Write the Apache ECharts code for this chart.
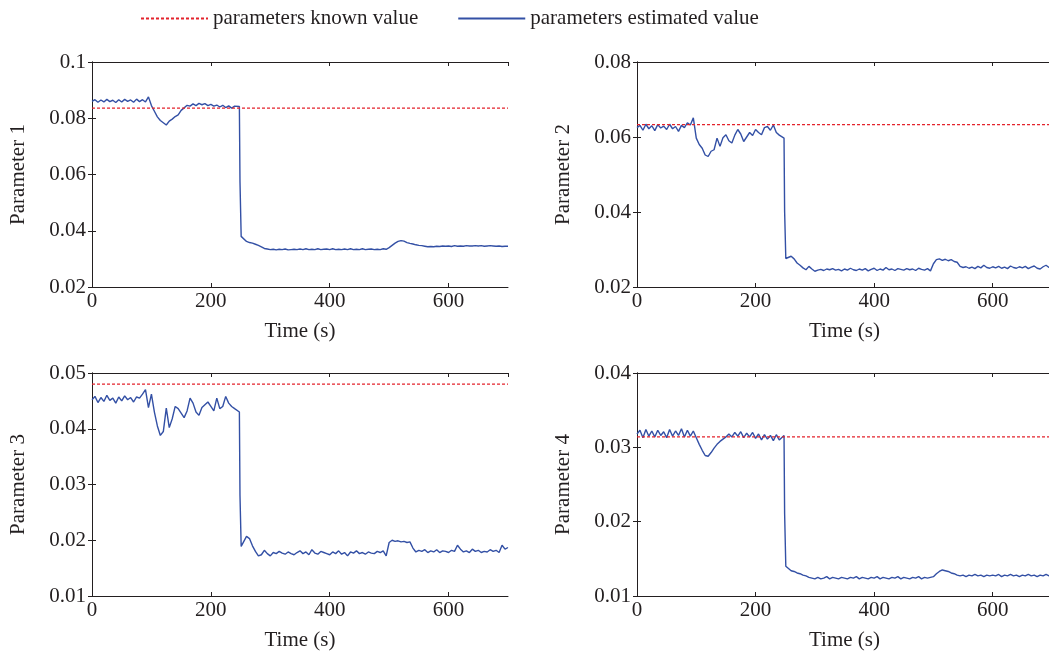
<!DOCTYPE html>
<html>
<head>
<meta charset="utf-8">
<script src="https://cdn.jsdelivr.net/npm/echarts@6/dist/echarts.min.js"></script>
<style>
  html, body { margin: 0; padding: 0; overflow: hidden; background: #fff; }
  #chart { width: 1053px; height: 652px; }
</style>
</head>
<body>
<div id="chart"></div>
<script>
// sample times: every 5 s, except the sharp drop around 248-251 s
const times = [];
for (let t = 0; t <= 700; t += 5) times.push(t);
times[49] = 248; times[50] = 249; times[51] = 251;

const seriesNames = ['parameters known value', 'parameters estimated value'];
const panelNames = ['Parameter 1', 'Parameter 2', 'Parameter 3', 'Parameter 4'];
const knownValues = [0.0836, 0.0633, 0.0480, 0.0314];

// estimated values, one per sample time
const param1 = [
  0.0860, 0.0866, 0.0857, 0.0865, 0.0858, 0.0867, 0.0859, 0.0864, 0.0856, 0.0866,
  0.0858, 0.0867, 0.0860, 0.0865, 0.0857, 0.0868, 0.0859, 0.0866, 0.0858, 0.0876,
  0.0845, 0.0825, 0.0805, 0.0792, 0.0784, 0.0776, 0.0790, 0.0797, 0.0806, 0.0812,
  0.0828, 0.0837, 0.0846, 0.0843, 0.0851, 0.0845, 0.0853, 0.0848, 0.0852, 0.0845,
  0.0849, 0.0843, 0.0847, 0.0840, 0.0846, 0.0838, 0.0844, 0.0836, 0.0843, 0.0842,
  0.0576, 0.0380, 0.0362, 0.0358, 0.0356, 0.0352, 0.0348, 0.0343, 0.0337, 0.0335,
  0.0333, 0.0334, 0.0332, 0.0334, 0.0333, 0.0335, 0.0332, 0.0333, 0.0334, 0.0333,
  0.0335, 0.0333, 0.0336, 0.0333, 0.0334, 0.0333, 0.0336, 0.0333, 0.0334, 0.0335,
  0.0333, 0.0336, 0.0333, 0.0334, 0.0333, 0.0335, 0.0333, 0.0336, 0.0333, 0.0334,
  0.0333, 0.0336, 0.0333, 0.0334, 0.0335, 0.0333, 0.0334, 0.0333, 0.0336, 0.0334,
  0.0340, 0.0348, 0.0356, 0.0362, 0.0365, 0.0363, 0.0358, 0.0355, 0.0353, 0.0350,
  0.0348, 0.0347, 0.0345, 0.0343, 0.0344, 0.0343, 0.0345, 0.0344, 0.0346, 0.0345,
  0.0346, 0.0344, 0.0347, 0.0345, 0.0346, 0.0345, 0.0347, 0.0346, 0.0346, 0.0347,
  0.0346, 0.0347, 0.0345, 0.0346, 0.0347, 0.0346, 0.0345, 0.0346, 0.0344, 0.0345,
  0.0345
];
const param2 = [
  0.0625, 0.0631, 0.0618, 0.0634, 0.0622, 0.0630, 0.0617, 0.0633, 0.0624, 0.0629,
  0.0620, 0.0634, 0.0622, 0.0628, 0.0615, 0.0631, 0.0625, 0.0638, 0.0632, 0.0651,
  0.0597, 0.0580, 0.0570, 0.0552, 0.0548, 0.0562, 0.0566, 0.0597, 0.0575, 0.0598,
  0.0606, 0.0590, 0.0584, 0.0605, 0.0620, 0.0608, 0.0588, 0.0600, 0.0612, 0.0604,
  0.0620, 0.0612, 0.0606, 0.0625, 0.0628, 0.0618, 0.0632, 0.0612, 0.0605, 0.0597,
  0.0402, 0.0276, 0.0282, 0.0275, 0.0264, 0.0258, 0.0251, 0.0246, 0.0255, 0.0248,
  0.0242, 0.0245, 0.0247, 0.0244, 0.0248, 0.0246, 0.0249, 0.0245, 0.0247, 0.0243,
  0.0248, 0.0245, 0.0250, 0.0246, 0.0244, 0.0248, 0.0245, 0.0249, 0.0243, 0.0247,
  0.0250, 0.0244, 0.0248, 0.0245, 0.0252, 0.0246, 0.0248, 0.0244, 0.0249, 0.0247,
  0.0245, 0.0249, 0.0246, 0.0248, 0.0244, 0.0250, 0.0247, 0.0245, 0.0249, 0.0243,
  0.0262, 0.0273, 0.0275, 0.0271, 0.0274, 0.0270, 0.0273, 0.0268, 0.0266, 0.0255,
  0.0252, 0.0254, 0.0250, 0.0253, 0.0249, 0.0255, 0.0251, 0.0258, 0.0252, 0.0250,
  0.0254, 0.0251, 0.0255, 0.0250, 0.0253, 0.0249, 0.0256, 0.0252, 0.0250, 0.0254,
  0.0251, 0.0255, 0.0249, 0.0253, 0.0256, 0.0250, 0.0248, 0.0254, 0.0258, 0.0252,
  0.0255
];
const param3 = [
  0.0452, 0.0458, 0.0447, 0.0456, 0.0449, 0.0460, 0.0451, 0.0455, 0.0446, 0.0457,
  0.0450, 0.0459, 0.0452, 0.0456, 0.0448, 0.0457, 0.0455, 0.0462, 0.0470, 0.0438,
  0.0462, 0.0430, 0.0405, 0.0388, 0.0395, 0.0437, 0.0402, 0.0418, 0.0440, 0.0436,
  0.0428, 0.0420, 0.0432, 0.0455, 0.0446, 0.0430, 0.0424, 0.0438, 0.0443, 0.0448,
  0.0440, 0.0432, 0.0455, 0.0436, 0.0440, 0.0458, 0.0446, 0.0440, 0.0436, 0.0430,
  0.0281, 0.0189, 0.0207, 0.0203, 0.0190, 0.0180, 0.0172, 0.0174, 0.0182, 0.0176,
  0.0172, 0.0178, 0.0176, 0.0180, 0.0177, 0.0175, 0.0179, 0.0176, 0.0174, 0.0178,
  0.0181, 0.0176, 0.0179, 0.0174, 0.0183, 0.0177, 0.0175, 0.0180, 0.0178, 0.0176,
  0.0174, 0.0179, 0.0176, 0.0181, 0.0175, 0.0178, 0.0172, 0.0179, 0.0177, 0.0181,
  0.0176, 0.0178, 0.0175, 0.0179, 0.0177, 0.0176, 0.0180, 0.0178, 0.0181, 0.0172,
  0.0196, 0.0200, 0.0198, 0.0199, 0.0197, 0.0198, 0.0196, 0.0197, 0.0186, 0.0179,
  0.0182, 0.0180, 0.0183, 0.0178, 0.0181, 0.0179, 0.0183, 0.0178, 0.0181, 0.0180,
  0.0178, 0.0182, 0.0180, 0.0191, 0.0184, 0.0179, 0.0181, 0.0178, 0.0184, 0.0180,
  0.0182, 0.0178, 0.0180, 0.0179, 0.0183, 0.0180, 0.0182, 0.0178, 0.0191, 0.0184,
  0.0187
];
const param4 = [
  0.0318, 0.0323, 0.0313, 0.0324, 0.0315, 0.0322, 0.0314, 0.0323, 0.0316, 0.0321,
  0.0313, 0.0324, 0.0315, 0.0322, 0.0316, 0.0325, 0.0314, 0.0323, 0.0315, 0.0322,
  0.0313, 0.0304, 0.0296, 0.0289, 0.0288, 0.0293, 0.0299, 0.0304, 0.0308, 0.0311,
  0.0314, 0.0318, 0.0314, 0.0320, 0.0315, 0.0321, 0.0313, 0.0319, 0.0314, 0.0320,
  0.0312, 0.0318, 0.0310, 0.0317, 0.0311, 0.0316, 0.0309, 0.0317, 0.0310, 0.0316,
  0.0211, 0.0140, 0.0134, 0.0133, 0.0131, 0.0130, 0.0128, 0.0127, 0.0125, 0.0124,
  0.0123, 0.0125, 0.0123, 0.0124, 0.0126, 0.0123, 0.0125, 0.0124, 0.0123, 0.0125,
  0.0124, 0.0123, 0.0125, 0.0124, 0.0126, 0.0123, 0.0125, 0.0124, 0.0123, 0.0125,
  0.0124, 0.0126, 0.0123, 0.0125, 0.0124, 0.0123, 0.0125, 0.0124, 0.0126, 0.0123,
  0.0125, 0.0124, 0.0123, 0.0125, 0.0124, 0.0126, 0.0123, 0.0125, 0.0124, 0.0125,
  0.0126, 0.0130, 0.0133, 0.0135, 0.0134, 0.0133, 0.0131, 0.0130, 0.0128, 0.0127,
  0.0128, 0.0126, 0.0128, 0.0127, 0.0129, 0.0127, 0.0128, 0.0126, 0.0128, 0.0127,
  0.0128, 0.0127, 0.0129, 0.0126, 0.0128, 0.0127, 0.0129, 0.0127, 0.0128, 0.0126,
  0.0128, 0.0127, 0.0129, 0.0127, 0.0128, 0.0126, 0.0128, 0.0127, 0.0129, 0.0127,
  0.0128
];
const estimates = [param1, param2, param3, param4];
const yRanges = [
  { min: 0.02, max: 0.1, interval: 0.02 },
  { min: 0.02, max: 0.08, interval: 0.02 },
  { min: 0.01, max: 0.05, interval: 0.01 },
  { min: 0.01, max: 0.04, interval: 0.01 }
];

const FONT = "'Liberation Serif', 'Times New Roman', serif";
const INK = '#231f20';
const RED = '#e3232c';
const BLUE = '#3350a5';

// panel boxes (px); the right panels run just past the window edge
const boxes = [
  { left: 92, top: 62, width: 416, height: 225 },
  { left: 637, top: 62, width: 415, height: 225 },
  { left: 92, top: 373, width: 416, height: 225 },
  { left: 637, top: 373, width: 415, height: 225 }
];

const chart = echarts.init(document.getElementById('chart'));

const grid = [], xAxis = [], yAxis = [], series = [];
const axisLine = { show: true, lineStyle: { color: INK, width: 1 } };
const axisTick = { show: true, inside: true, length: 4, lineStyle: { color: INK } };

boxes.forEach((b, i) => {
  grid.push(Object.assign({ containLabel: false }, b));
  // bottom + mirrored top x axes
  xAxis.push({
    type: 'value', gridIndex: i, position: 'bottom', min: 0, max: 700, interval: 200,
    name: 'Time (s)', nameLocation: 'middle', nameGap: 34,
    nameTextStyle: { fontFamily: FONT, fontSize: 21, color: INK },
    axisLine, axisTick, splitLine: { show: false },
    axisLabel: { fontFamily: FONT, fontSize: 21, color: INK, margin: 4, showMaxLabel: false }
  });
  xAxis.push({
    type: 'value', gridIndex: i, position: 'top', min: 0, max: 700, interval: 200,
    axisLine, axisTick, splitLine: { show: false }, axisLabel: { show: false }
  });
  const r = yRanges[i];
  yAxis.push({
    type: 'value', gridIndex: i, position: 'left', min: r.min, max: r.max, interval: r.interval,
    name: panelNames[i], nameLocation: 'middle', nameGap: 63, nameRotate: 90,
    nameTextStyle: { fontFamily: FONT, fontSize: 21, color: INK },
    axisLine, axisTick, splitLine: { show: false },
    axisLabel: { fontFamily: FONT, fontSize: 21, color: INK, margin: 6 }
  });
  yAxis.push({
    type: 'value', gridIndex: i, position: 'right', min: r.min, max: r.max, interval: r.interval,
    axisLine, axisTick, splitLine: { show: false }, axisLabel: { show: false }
  });
  series.push({
    name: seriesNames[0], type: 'line', xAxisIndex: 2 * i, yAxisIndex: 2 * i,
    data: [[0, knownValues[i]], [700, knownValues[i]]],
    symbol: 'none', lineStyle: { color: RED, width: 1.2, type: [3, 2] }, itemStyle: { color: RED },
    z: 3
  });
  series.push({
    name: seriesNames[1], type: 'line', xAxisIndex: 2 * i, yAxisIndex: 2 * i,
    data: times.map((t, k) => [t, estimates[i][k]]),
    symbol: 'none', lineStyle: { color: BLUE, width: 1.4 }, itemStyle: { color: BLUE },
    z: 2
  });
});

chart.setOption({
  animation: false,
  backgroundColor: '#fff',
  legend: {
    data: seriesNames,
    left: 140, top: 8, padding: 0,
    itemWidth: 67, itemHeight: 12, itemGap: 39,
    itemStyle: { opacity: 0 },
    textStyle: { fontFamily: FONT, fontSize: 21, color: INK }
  },
  grid, xAxis, yAxis, series
});
</script>
</body>
</html>
